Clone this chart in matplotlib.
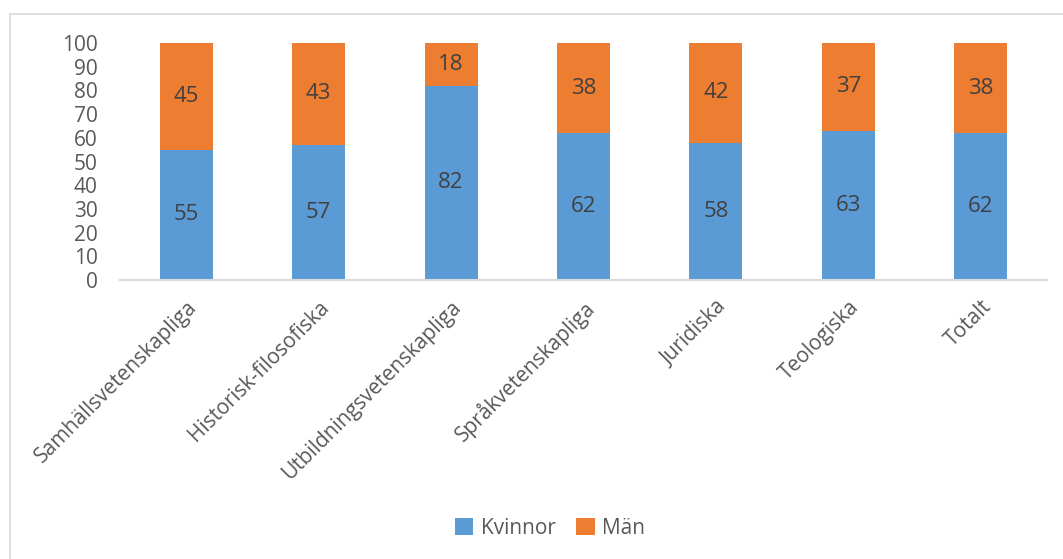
import matplotlib.pyplot as plt
from matplotlib.patches import Rectangle
import numpy as np

# Andel kvinnor och män per område (%)
omraden = ["Samhällsvetenskapliga", "Historisk-filosofiska", "Utbildningsvetenskapliga",
           "Språkvetenskapliga", "Juridiska", "Teologiska", "Totalt"]
kvinnor = [55, 57, 82, 62, 58, 63, 62]
man = [45, 43, 18, 38, 42, 37, 38]

blue = "#5B9BD5"
orange = "#ED7D31"

plt.rcParams['font.family'] = ['Open Sans', 'DejaVu Sans']

fig = plt.figure(figsize=(10.63, 5.59), dpi=100)
# chart frame
fig.patches.append(Rectangle((10 / 1063, -0.1), 1.2, 0.1 + (559 - 14) / 559,
                             transform=fig.transFigure, fill=False,
                             edgecolor="#D9D9D9", linewidth=1.2))

ax = fig.add_axes([120 / 1063, (559 - 280) / 559, 927 / 1063, 237 / 559])
x = np.arange(len(omraden))
b1 = ax.bar(x, kvinnor, width=0.4, color=blue, label="Kvinnor")
b2 = ax.bar(x, man, width=0.4, bottom=kvinnor, color=orange, label="Män")

for i in range(len(omraden)):
    ax.text(x[i], kvinnor[i] / 2, str(kvinnor[i]), ha='center', va='center',
            fontsize=16, color="#404040")
    ax.text(x[i], kvinnor[i] + man[i] / 2, str(man[i]), ha='center', va='center',
            fontsize=16, color="#404040")

ax.set_xlim(-0.5, len(omraden) - 0.5)
ax.set_ylim(0, 100)
ax.set_yticks(range(0, 101, 10))
ax.tick_params(axis='y', length=0, labelsize=15, labelcolor="#595959", pad=16)
ax.tick_params(axis='x', length=0, labelsize=15, labelcolor="#595959", pad=12)
ax.set_xticks(x)
ax.set_xticklabels(omraden, rotation=45, ha='right', rotation_mode='anchor')
for s in ['top', 'right', 'left']:
    ax.spines[s].set_visible(False)
ax.spines['bottom'].set_color("#D9D9D9")
ax.spines['bottom'].set_linewidth(1.5)

fig.legend(handles=[b1, b2], labels=["Kvinnor", "Män"], loc='center',
           bbox_to_anchor=(550 / 1063, (559 - 528) / 559), ncol=2, frameon=False,
           fontsize=15, labelcolor="#595959", handlelength=0.9, handleheight=0.9,
           handletextpad=0.35, columnspacing=1.0)

fig.savefig("out.png", dpi=100)
